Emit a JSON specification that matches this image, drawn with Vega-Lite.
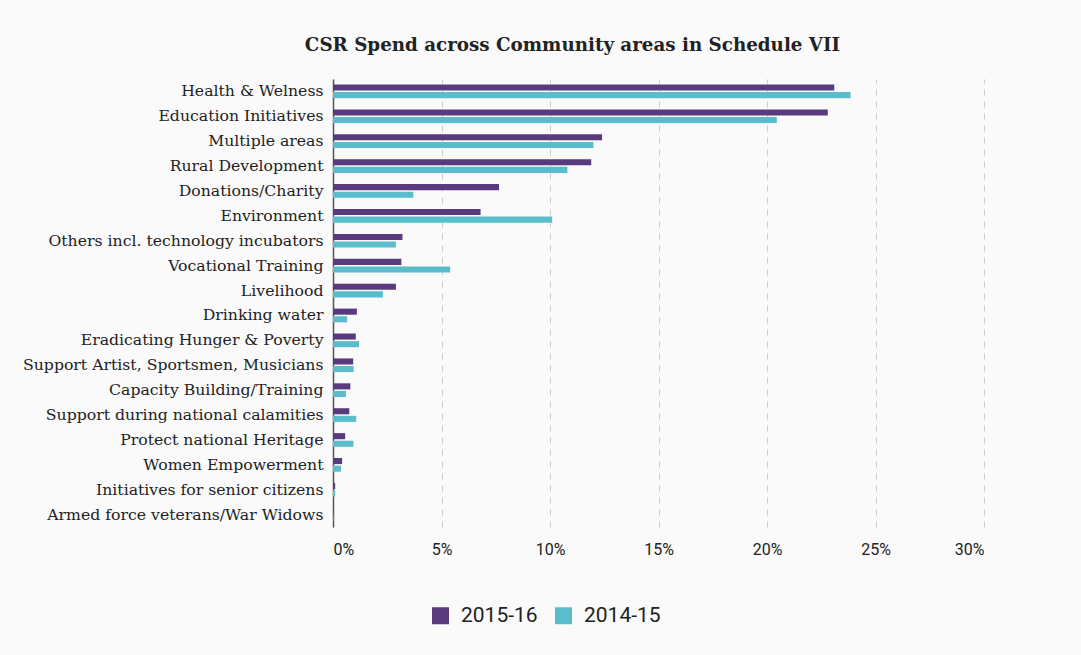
{
  "$schema": "https://vega.github.io/schema/vega-lite/v6.json",
  "width": 651,
  "height": 448,
  "autosize": {"type": "none"},
  "padding": {"left": 333, "top": 79, "right": 97, "bottom": 128},
  "background": "#fafafa",
  "title": {
    "text": "CSR Spend across Community areas in Schedule VII",
    "font": "DejaVu Serif",
    "fontSize": 18.3,
    "fontWeight": "bold",
    "color": "#222222",
    "anchor": "middle",
    "frame": "group",
    "dx": -86,
    "offset": 24
  },
  "data": {
    "values": [
      {"area": "Health & Welness", "year": "2015-16", "value": 0.231},
      {"area": "Health & Welness", "year": "2014-15", "value": 0.2385},
      {"area": "Education Initiatives", "year": "2015-16", "value": 0.228},
      {"area": "Education Initiatives", "year": "2014-15", "value": 0.2045},
      {"area": "Multiple areas", "year": "2015-16", "value": 0.124},
      {"area": "Multiple areas", "year": "2014-15", "value": 0.12},
      {"area": "Rural Development", "year": "2015-16", "value": 0.119},
      {"area": "Rural Development", "year": "2014-15", "value": 0.108},
      {"area": "Donations/Charity", "year": "2015-16", "value": 0.0765},
      {"area": "Donations/Charity", "year": "2014-15", "value": 0.037},
      {"area": "Environment", "year": "2015-16", "value": 0.068},
      {"area": "Environment", "year": "2014-15", "value": 0.101},
      {"area": "Others incl. technology incubators", "year": "2015-16", "value": 0.032},
      {"area": "Others incl. technology incubators", "year": "2014-15", "value": 0.029},
      {"area": "Vocational Training", "year": "2015-16", "value": 0.0315},
      {"area": "Vocational Training", "year": "2014-15", "value": 0.054},
      {"area": "Livelihood", "year": "2015-16", "value": 0.029},
      {"area": "Livelihood", "year": "2014-15", "value": 0.023},
      {"area": "Drinking water", "year": "2015-16", "value": 0.011},
      {"area": "Drinking water", "year": "2014-15", "value": 0.0065},
      {"area": "Eradicating Hunger & Poverty", "year": "2015-16", "value": 0.0105},
      {"area": "Eradicating Hunger & Poverty", "year": "2014-15", "value": 0.012},
      {"area": "Support Artist, Sportsmen, Musicians", "year": "2015-16", "value": 0.0093},
      {"area": "Support Artist, Sportsmen, Musicians", "year": "2014-15", "value": 0.0095},
      {"area": "Capacity Building/Training", "year": "2015-16", "value": 0.008},
      {"area": "Capacity Building/Training", "year": "2014-15", "value": 0.006},
      {"area": "Support during national calamities", "year": "2015-16", "value": 0.0075},
      {"area": "Support during national calamities", "year": "2014-15", "value": 0.0107},
      {"area": "Protect national Heritage", "year": "2015-16", "value": 0.0056},
      {"area": "Protect national Heritage", "year": "2014-15", "value": 0.0094},
      {"area": "Women Empowerment", "year": "2015-16", "value": 0.0042},
      {"area": "Women Empowerment", "year": "2014-15", "value": 0.0037},
      {"area": "Initiatives for senior citizens", "year": "2015-16", "value": 0.001},
      {"area": "Initiatives for senior citizens", "year": "2014-15", "value": 0.001},
      {"area": "Armed force veterans/War Widows", "year": "2015-16", "value": 0.0002},
      {"area": "Armed force veterans/War Widows", "year": "2014-15", "value": 0.0002}
    ]
  },
  "mark": {"type": "bar"},
  "encoding": {
    "y": {
      "field": "area",
      "type": "nominal",
      "sort": null,
      "title": null,
      "scale": {"paddingInner": 0.45, "paddingOuter": 0.22},
      "axis": {
        "domainColor": "#555555",
        "domainWidth": 1.5,
        "ticks": false,
        "labelFont": "DejaVu Serif",
        "labelFontSize": 15.7,
        "labelColor": "#222222",
        "labelPadding": 10,
        "labelLimit": 400
      }
    },
    "x": {
      "field": "value",
      "type": "quantitative",
      "title": null,
      "scale": {"domain": [0, 0.3], "nice": false},
      "axis": {
        "format": ".0%",
        "values": [0, 0.05, 0.1, 0.15, 0.2, 0.25, 0.3],
        "domain": false,
        "ticks": false,
        "grid": true,
        "gridColor": "#cccccc",
        "gridDash": [6, 6],
        "gridWidth": 1,
        "labelFont": "Roboto",
        "labelFontSize": 16,
        "labelColor": "#222222",
        "labelPadding": 14
      }
    },
    "yOffset": {
      "field": "year",
      "type": "nominal",
      "sort": ["2015-16", "2014-15"],
      "scale": {"paddingInner": 0.2}
    },
    "color": {
      "field": "year",
      "type": "nominal",
      "scale": {"domain": ["2015-16", "2014-15"], "range": ["#593a7c", "#5bbdcb"]},
      "legend": {
        "orient": "none",
        "legendX": 97,
        "legendY": 526,
        "direction": "horizontal",
        "title": null,
        "symbolType": "square",
        "symbolSize": 289,
        "symbolStrokeWidth": 0,
        "symbolOpacity": 1,
        "labelFont": "Roboto",
        "labelFontSize": 21,
        "labelColor": "#222222",
        "labelOffset": 10,
        "columnPadding": 15
      }
    }
  },
  "config": {"view": {"stroke": null}}
}
